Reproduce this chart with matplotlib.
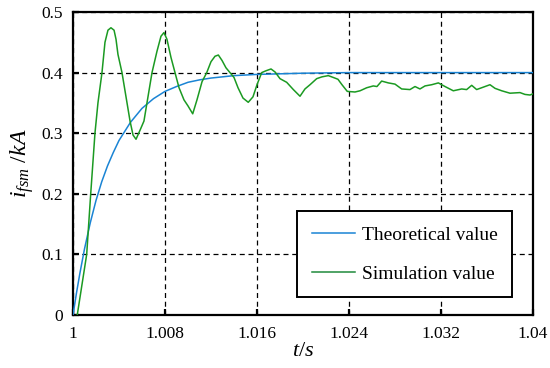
import matplotlib
matplotlib.use("Agg")
import matplotlib.pyplot as plt

# Theoretical value
t_theo = [1.0, 1.0003, 1.0006, 1.001, 1.0015, 1.002, 1.0025, 1.003, 1.0035, 1.004, 1.005,
          1.006, 1.007, 1.008, 1.009, 1.010, 1.011, 1.012, 1.014, 1.016, 1.018, 1.020,
          1.024, 1.03, 1.04]
v_theo = [0.0, 0.036, 0.069, 0.109, 0.152, 0.189, 0.220, 0.246, 0.268, 0.288, 0.318,
          0.341, 0.357, 0.369, 0.377, 0.384, 0.388, 0.391, 0.395, 0.397, 0.398, 0.399,
          0.400, 0.400, 0.400]

# Simulation value
t_sim = [1.00037, 1.00119, 1.00154, 1.00191, 1.00217, 1.00252, 1.00278, 1.00304, 1.00330,
         1.00357, 1.00374, 1.00391, 1.00426, 1.00461, 1.00496, 1.00522, 1.00548, 1.00583,
         1.00617, 1.00652, 1.00687, 1.00730, 1.00765, 1.00791, 1.00817, 1.00852, 1.00887,
         1.00922, 1.00965, 1.01000, 1.01041, 1.01078, 1.01122, 1.01163, 1.01200, 1.01235,
         1.01264, 1.01296, 1.01330, 1.01365, 1.01400, 1.01435, 1.01478, 1.01524, 1.01565,
         1.01600, 1.01641, 1.01678, 1.01722, 1.01757, 1.01800, 1.01858, 1.01916, 1.01974,
         1.02017, 1.02061, 1.02119, 1.02165, 1.02220, 1.02263, 1.02304, 1.02339, 1.02385,
         1.02452, 1.02496, 1.02554, 1.02611, 1.02643, 1.02684, 1.02742, 1.02800, 1.02858,
         1.02930, 1.02974, 1.03017, 1.03061, 1.03119, 1.03177, 1.03235, 1.03307, 1.03380,
         1.03423, 1.03467, 1.03510, 1.03568, 1.03626, 1.03670, 1.03728, 1.03800, 1.03887,
         1.03930, 1.03974, 1.04000]
v_sim = [0.000, 0.100, 0.200, 0.300, 0.350, 0.400, 0.450, 0.470, 0.474,
         0.470, 0.455, 0.430, 0.400, 0.360, 0.320, 0.297, 0.290, 0.305,
         0.320, 0.360, 0.400, 0.435, 0.460, 0.466, 0.455, 0.425, 0.400,
         0.375, 0.355, 0.345, 0.332, 0.355, 0.385, 0.400, 0.418, 0.427,
         0.429, 0.420, 0.408, 0.400, 0.392, 0.375, 0.358, 0.351, 0.360,
         0.380, 0.400, 0.403, 0.406, 0.401, 0.390, 0.384, 0.372, 0.361,
         0.373, 0.380, 0.390, 0.393, 0.395, 0.392, 0.389, 0.380, 0.369,
         0.368, 0.370, 0.375, 0.378, 0.377, 0.386, 0.383, 0.381, 0.373,
         0.372, 0.377, 0.373, 0.378, 0.380, 0.383, 0.377, 0.370, 0.373,
         0.372, 0.379, 0.372, 0.376, 0.380, 0.374, 0.370, 0.366, 0.367,
         0.364, 0.363, 0.365]

x_ticks = [1.0, 1.008, 1.016, 1.024, 1.032, 1.04]
x_tick_labels = ["1", "1.008", "1.016", "1.024", "1.032", "1.04"]
y_ticks = [0, 0.1, 0.2, 0.3, 0.4, 0.5]
y_tick_labels = ["0", "0.1", "0.2", "0.3", "0.4", "0.5"]

plt.rcParams["font.family"] = ["Liberation Serif", "DejaVu Serif"]
plt.rcParams["mathtext.fontset"] = "custom"
plt.rcParams["mathtext.rm"] = "Liberation Serif"
plt.rcParams["mathtext.it"] = "Liberation Serif:italic"

fig = plt.figure(figsize=(5.5, 3.68), dpi=100)
ax = fig.add_axes([73/550, 1-315/368, 460/550, 303/368])

ax.plot(t_theo, v_theo, color="#1a84d4", lw=1.1, label="Theoretical value", zorder=3)
ax.plot(t_sim, v_sim, color="#1b9a22", lw=1.1, label="Simulation value", zorder=4)

ax.set_xlim(1.0, 1.04)
ax.set_ylim(0, 0.497)
ax.set_xticks(x_ticks)
ax.set_xticklabels(x_tick_labels)
ax.set_yticks(y_ticks)
ax.set_yticklabels(y_tick_labels)
ax.tick_params(direction="in", length=4, width=1.6, labelsize=12.5, pad=8)
ax.tick_params(axis="y", pad=7)
ax.grid(True, color="black", linestyle=(0, (4, 3)), linewidth=0.9)
for s in ax.spines.values():
    s.set_linewidth(1.6)

ax.set_xlabel("$t/s$", fontsize=16, labelpad=0)
ax.set_ylabel("$i_{fsm}$ /$kA$", fontsize=17, labelpad=4)

leg = ax.legend(loc="lower right", bbox_to_anchor=(0.954, 0.059), fancybox=False,
                edgecolor="black", framealpha=1, fontsize=14, handlelength=2.2,
                handletextpad=0.35, labelspacing=1.1, borderpad=0.75, borderaxespad=0)
leg.get_frame().set_linewidth(1.4)
leg.get_lines()[1].set_color("#1f8a3c")

fig.savefig("out.png", dpi=100)
